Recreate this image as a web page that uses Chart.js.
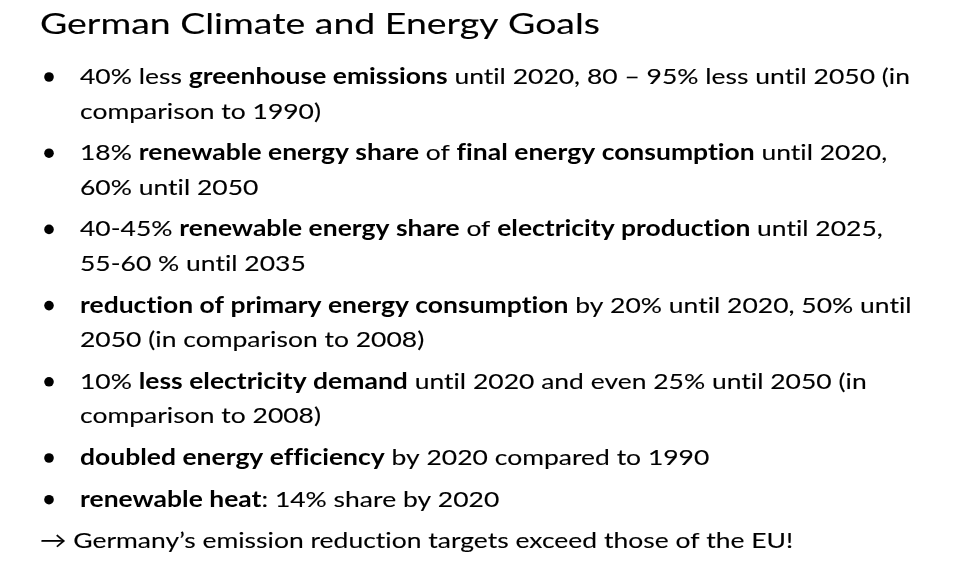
<!DOCTYPE html>
<html>
<head>
<meta charset="utf-8">
<script src="https://cdn.jsdelivr.net/npm/chart.js@4.4.1/dist/chart.umd.min.js"></script>
<style>
  html, body { margin: 0; padding: 0; background: #ffffff; }
</style>
</head>
<body>
<canvas id="slide" width="971" height="583"></canvas>
<script>
const titulo = 'German Climate and Energy Goals';

// each line is a list of [text, bold]
const meta1 = [
  [['40% less ', 0], ['greenhouse emissions', 1], [' until 2020, 80 \u2013 95% less until 2050 (in', 0]],
  [['comparison to 1990)', 0]]
];
const meta2 = [
  [['18% ', 0], ['renewable energy share', 1], [' of ', 0], ['final energy consumption', 1], [' until 2020,', 0]],
  [['60% until 2050', 0]]
];
const meta3 = [
  [['40-45% ', 0], ['renewable energy share', 1], [' of ', 0], ['electricity production', 1], [' until 2025,', 0]],
  [['55-60 % until 2035', 0]]
];
const meta4 = [
  [['reduction of primary energy consumption', 1], [' by 20% until 2020, 50% until', 0]],
  [['2050 (in comparison to 2008)', 0]]
];
const meta5 = [
  [['10% ', 0], ['less electricity demand', 1], [' until 2020 and even 25% until 2050 (in', 0]],
  [['comparison to 2008)', 0]]
];
const meta6 = [
  [['doubled energy efficiency', 1], [' by 2020 compared to 1990', 0]]
];
const meta7 = [
  [['renewable heat', 1], [': 14% share by 2020', 0]]
];
const metas = [meta1, meta2, meta3, meta4, meta5, meta6, meta7];
const conclusao = [['\u2192 Germany\u2019s emission reduction targets exceed those of the EU!', 0]];

const fonte = 'Lato, "Open Sans", sans-serif';

function fontStr(bold, size) {
  return (bold ? 'bold ' : '') + size + 'px ' + fonte;
}

function larguraLinha(ctx, partes, size) {
  let w = 0;
  partes.forEach(([txt, b]) => {
    ctx.font = fontStr(b, size);
    w += ctx.measureText(txt).width;
  });
  return w;
}

function desenhaLinha(ctx, partes, x, y, size, escala) {
  ctx.save();
  ctx.translate(x, y);
  ctx.scale(escala, 1);
  let cx = 0;
  partes.forEach(([txt, b]) => {
    ctx.font = fontStr(b, size);
    ctx.fillText(txt, cx, 0);
    if (!b) ctx.strokeText(txt, cx, 0); // tiny bit heavier
    cx += ctx.measureText(txt).width;
  });
  ctx.restore();
}

const textoSlide = {
  id: 'textoSlide',
  afterDraw(chart) {
    const ctx = chart.ctx;
    ctx.save();
    ctx.fillStyle = '#000000';
    ctx.strokeStyle = '#000000';
    ctx.lineWidth = 0.12;
    ctx.textBaseline = 'alphabetic';
    ctx.textAlign = 'left';
    // no ligatures (ti, fi)
    if ('letterSpacing' in ctx) ctx.letterSpacing = '0.01px';

    // title
    const tamTitulo = 29;
    ctx.font = fontStr(0, tamTitulo);
    const escTitulo = 560 / ctx.measureText(titulo).width;
    desenhaLinha(ctx, [[titulo, 0]], 40, 34, tamTitulo, escTitulo);

    // body
    const tam = 22;
    const esc = 830 / larguraLinha(ctx, meta1[0], tam);
    let y = 84;
    metas.forEach((meta, i) => {
      if (i > 0) y += 41.7;
      meta.forEach((linha, j) => {
        if (j > 0) y += 34.5;
        if (j === 0) {
          ctx.beginPath();
          ctx.arc(49, y - 7, 4.8, 0, Math.PI * 2);
          ctx.fill();
        }
        desenhaLinha(ctx, linha, 80, y, tam, esc);
      });
    });
    y += 41.7;
    desenhaLinha(ctx, conclusao, 40, y, tam, esc);
    ctx.restore();
  }
};

const grafico = new Chart(document.getElementById('slide'), {
  type: 'bar',
  data: {
    labels: [],
    datasets: [{ data: [] }]
  },
  options: {
    responsive: false,
    animation: false,
    plugins: {
      legend: { display: false },
      tooltip: { enabled: false },
      title: { display: false }
    },
    scales: {
      x: { display: false },
      y: { display: false }
    }
  },
  plugins: [textoSlide]
});
</script>
</body>
</html>
